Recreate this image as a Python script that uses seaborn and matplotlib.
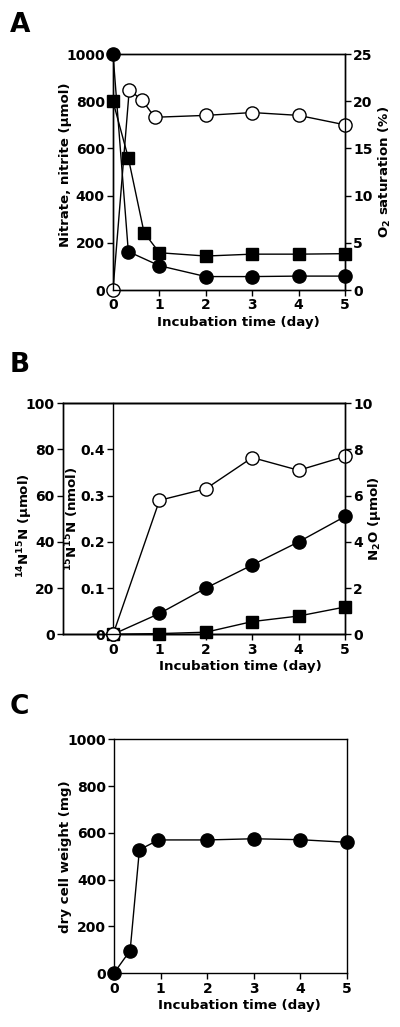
import matplotlib
matplotlib.use('Agg')
import matplotlib.pyplot as plt
import matplotlib.ticker as mticker
import seaborn as sns

sns.set_style('ticks')
plt.rcParams['font.family'] = ['DejaVu Sans']
plt.rcParams['font.weight'] = 'bold'
plt.rcParams['axes.labelweight'] = 'bold'
plt.rcParams['font.size'] = 10
plt.rcParams['axes.labelsize'] = 9.6
plt.rcParams['text.color'] = 'black'
plt.rcParams['axes.labelcolor'] = 'black'
plt.rcParams['mathtext.fontset'] = 'custom'
plt.rcParams['mathtext.rm'] = 'DejaVu Sans:bold'
plt.rcParams['mathtext.default'] = 'rm'

# Panel A: nitrate / nitrite (left), O2 saturation (right)
a_nitrate_t = [0, 0.33, 1, 2, 3, 4, 5]
a_nitrate = [1000, 163, 103, 57, 57, 59, 59]
a_nitrite_t = [0, 0.33, 0.67, 1, 2, 3, 4, 5]
a_nitrite = [799, 560, 243, 158, 144, 152, 152, 154]
a_o2_t = [0, 0.35, 0.63, 0.9, 2, 3, 4, 5]
a_o2 = [0, 21.2, 20.1, 18.3, 18.5, 18.8, 18.5, 17.5]

# Panel B
b_t = [0, 1, 2, 3, 4, 5]
b_14n15n = [0, 0.3, 0.9, 5.5, 7.9, 11.8]
b_15n15n = [0, 0.045, 0.1, 0.15, 0.2, 0.255]
b_n2o = [0, 5.8, 6.3, 7.65, 7.1, 7.7]

# Panel C: dry cell weight
c_t = [0, 0.34, 0.54, 0.95, 2, 3, 4, 5]
c_weight = [3, 97, 528, 570, 570, 575, 571, 560]

days = [0, 1, 2, 3, 4, 5]


def draw(ax, x, y, marker, face, ms):
    sns.lineplot(x=x, y=y, ax=ax, color='black', lw=1, marker=marker,
                 markersize=ms, markerfacecolor=face, markeredgecolor='black',
                 markeredgewidth=1, sort=False, estimator=None, clip_on=False,
                 legend=False)
    ax.set_xlabel('')
    ax.set_ylabel('')


def style(ax):
    for s in ax.spines.values():
        s.set_linewidth(1)
        s.set_color('black')
    ax.tick_params(direction='out', length=4, width=1, colors='black',
                   labelsize=10, pad=2)


fig = plt.figure(figsize=(4, 10.27), dpi=100)

# ---- A ----
axA = fig.add_axes([0.2825, 0.7176, 0.58, 0.2298])
axA2 = axA.twinx()
draw(axA, a_nitrate_t, a_nitrate, 'o', 'black', 9.5)
draw(axA, a_nitrite_t, a_nitrite, 's', 'black', 8.5)
draw(axA2, a_o2_t, a_o2, 'o', 'white', 9.5)
axA.set_xlim(0, 5)
axA.set_ylim(0, 1000)
axA2.set_ylim(0, 25)
axA.set_xticks(days)
axA.set_yticks(range(0, 1001, 200))
axA2.set_yticks(range(0, 26, 5))
axA.set_ylabel('Nitrate, nitrite (µmol)')
axA.yaxis.set_label_coords(-0.177, 0.53)
axA2.set_ylabel('O$_2$ saturation (%)', rotation=90)
axA2.yaxis.set_label_coords(1.138, 0.5)
axA.set_xlabel('Incubation time (day)')
axA.xaxis.set_label_coords(0.54, -0.11)
for ax in (axA, axA2):
    style(ax)
fig.text(0.025, 1 - 32 / 1027, 'A', fontsize=19, fontweight='bold')

# ---- B ----
axB = fig.add_axes([0.1575, 0.3824, 0.705, 0.2249])
axB2 = axB.twinx()  # 15N15N inner axis
axB3 = axB.twinx()  # N2O right axis
draw(axB, b_t, b_14n15n, 's', 'black', 8.5)
draw(axB2, b_t, b_15n15n, 'o', 'black', 9.5)
draw(axB3, b_t, b_n2o, 'o', 'white', 9.5)
axB.set_xlim(-1.08, 5)
axB.set_ylim(0, 100)
axB2.set_ylim(0, 0.5)
axB3.set_ylim(0, 10)
axB.set_xticks(days)
axB.set_yticks(range(0, 101, 20))
axB2.set_yticks([0, 0.1, 0.2, 0.3, 0.4])
axB2.yaxis.set_major_formatter(mticker.FuncFormatter(lambda v, p: '0' if v == 0 else f'{v:.1f}'))
axB3.set_yticks(range(0, 11, 2))
axB2.spines['left'].set_position(('data', 0))
axB2.spines['left'].set_visible(True)
axB2.spines['right'].set_visible(False)
axB2.yaxis.set_ticks_position('left')
axB2.yaxis.set_label_position('left')
axB.set_ylabel('$^{14}$N$^{15}$N (µmol)')
axB.yaxis.set_label_coords(-0.099, 0.47)
axB2.set_ylabel('$^{15}$N$^{15}$N (nmol)')
axB2.yaxis.set_label_coords(0.064, 0.5)
axB3.set_ylabel('N$_2$O (µmol)', rotation=90)
axB3.yaxis.set_label_coords(1.074, 0.5)
axB.set_xlabel('Incubation time (day)')
axB.xaxis.set_label_coords(0.63, -0.11)
for ax in (axB, axB2, axB3):
    style(ax)
fig.text(0.025, 1 - 372 / 1027, 'B', fontsize=19, fontweight='bold')

# ---- C ----
axC = fig.add_axes([0.2858, 0.0523, 0.581, 0.2278])
draw(axC, c_t, c_weight, 'o', 'black', 9.5)
axC.set_xlim(0, 5)
axC.set_ylim(0, 1000)
axC.set_xticks(days)
axC.set_yticks(range(0, 1001, 200))
axC.set_ylabel('dry cell weight (mg)')
axC.yaxis.set_label_coords(-0.182, 0.5)
axC.set_xlabel('Incubation time (day)')
axC.xaxis.set_label_coords(0.54, -0.11)
style(axC)
fig.text(0.025, 1 - 714 / 1027, 'C', fontsize=19, fontweight='bold')

fig.savefig('out.png', dpi=100)
